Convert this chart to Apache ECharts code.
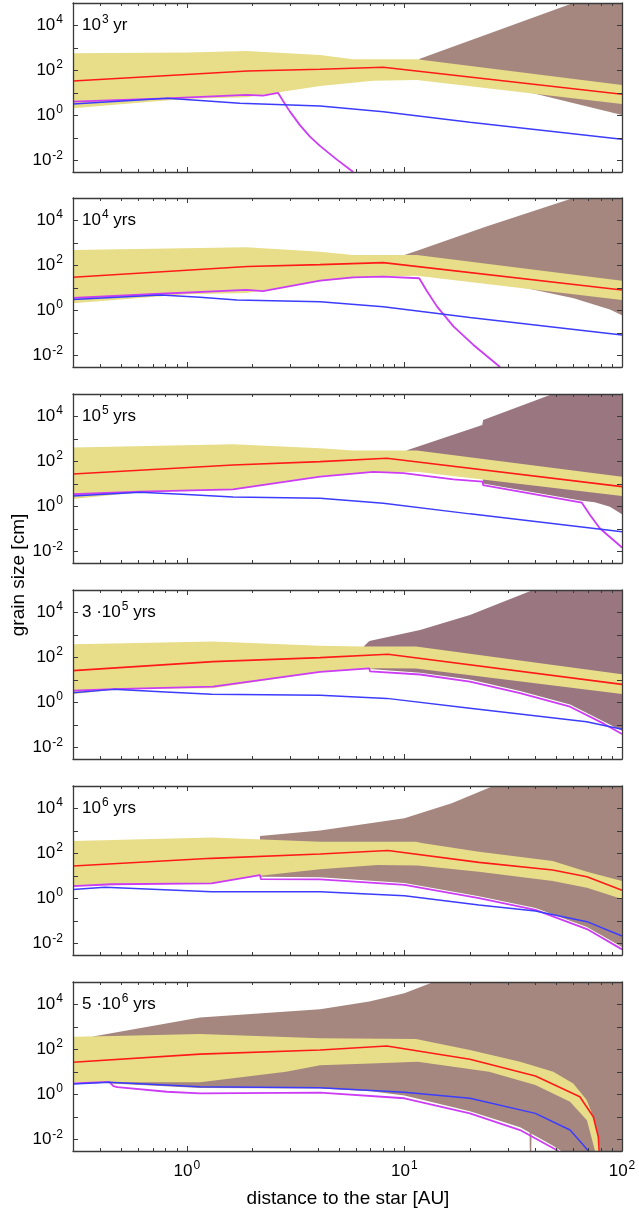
<!DOCTYPE html>
<html><head><meta charset="utf-8">
<script src="https://cdn.jsdelivr.net/npm/echarts@6/dist/echarts.min.js"></script>
<style>html,body{margin:0;padding:0;background:#fff}#c{width:639px;height:1211px}</style>
</head><body><div id="c"></div>
<script>
// ---------- data (x in AU, y in cm) ----------
// Panel 1: 10^3 yr
const p1BandUpper = [[0.3, 589], [1.0, 631], [1.88, 741], [4.1, 490], [5.8, 316], [11.4, 316], [100, 22.9]];
const p1BandLower = [[0.3, 2.14], [1.0, 5.62], [1.88, 6.61], [4.1, 20.9], [7.2, 35.5], [11.4, 38.0], [100, 3.31]];
const p1Red = [[0.3, 34.7], [1.9, 95.5], [4.1, 115], [8.0, 141], [100, 8.91]];
const p1Blue = [[0.3, 3.31], [0.55, 4.68], [0.81, 5.89], [1.2, 4.57], [1.75, 3.55], [4.1, 2.69], [8, 1.51], [20, 0.513], [100, 0.0891]];
const p1Magenta = [[0.3, 4.17], [0.81, 5.89], [1.88, 8.32], [2.24, 7.76], [2.63, 10.2], [2.75, 5.01], [2.98, 1.51], [3.31, 0.380], [3.68, 0.117], [4.08, 0.0468], [4.88, 0.0115], [5.82, 0.00316]];
const p1BrownUpper = [[11.6, 316], [59.7, 1e5], [100, 1e5]];
const p1BrownLower = [[11.6, 316], [20, 39.8], [39, 10], [70, 2.51], [100, 1.07]];

// Panel 2: 10^4 yrs
const p2BandUpper = [[0.3, 490], [1.88, 646], [4.1, 417], [5.8, 295], [11.4, 295], [100, 21.4]];
const p2BandLower = [[0.3, 2.14], [1.0, 5.37], [1.88, 6.03], [4.1, 20.0], [7.2, 33.1], [11.4, 35.5], [100, 2.95]];
const p2Red = [[0.3, 30.2], [1.9, 91.2], [4.1, 110], [8.0, 135], [100, 8.32]];
const p2Blue = [[0.3, 3.16], [0.76, 4.90], [1.15, 3.98], [1.7, 2.95], [4.1, 2.51], [8, 1.48], [20, 0.501], [100, 0.0832]];
const p2Magenta = [[0.3, 3.72], [0.76, 5.62], [1.88, 8.32], [2.24, 7.41], [4.1, 21.4], [5.8, 30.2], [8, 32.4], [11.7, 27.5], [12.6, 8.32], [14.1, 1.55], [16.8, 0.200], [20.7, 0.0309], [27.5, 0.00316]];
const p2BrownUpper = [[10, 295], [11.7, 490], [23.8, 5370], [59.7, 1e5], [100, 1e5]];
const p2BrownLower = [[10, 295], [20, 50.1], [36.5, 10], [60, 3.55], [88, 1.12], [100, 0.631]];

// Panel 3: 10^5 yrs
const p3BandUpper = [[0.3, 427], [1.63, 589], [4.1, 389], [5.8, 309], [11.4, 309], [100, 21.4]];
const p3BandLower = [[0.3, 2.19], [0.61, 4.37], [1.63, 5.50], [4.1, 23.4], [7.2, 33.1], [11.4, 35.5], [100, 2.95]];
const p3Red = [[0.3, 28.2], [1.63, 70.8], [4.1, 100], [8.3, 141], [100, 7.76]];
const p3Blue = [[0.3, 2.95], [0.61, 4.37], [1.0, 3.47], [1.63, 2.69], [4.1, 2.34], [8, 1.41], [20, 0.479], [100, 0.0776]];
const p3Magenta = [[0.3, 3.55], [0.61, 4.68], [1.63, 5.89], [4.1, 21.4], [7.2, 34.7], [9.9, 30.9], [16.8, 16.2], [22.9, 12.9], [23.0, 9.12], [65.4, 1.51], [71.3, 0.427], [79, 0.110], [100, 0.0155]];
const p3BrownUpper = [[10.2, 309], [22.8, 4170], [23.0, 7080], [48, 1e5], [100, 1e5]];
const p3BrownLower = [[10.2, 309], [22.8, 39.8], [23.0, 10.7], [65.4, 1.82], [75, 1.58], [88, 1.0], [95, 0.631], [100, 0.457]];

// Panel 4: 3·10^5 yrs
const p4BandUpper = [[0.3, 389], [1.32, 513], [4.1, 339], [6.5, 309], [11.3, 309], [100, 18.2]];
const p4BandLower = [[0.3, 2.34], [0.5, 4.07], [1.32, 4.37], [4.1, 22.4], [7.5, 33.9], [11.3, 33.1], [100, 2.40]];
const p4Red = [[0.3, 26.3], [1.32, 66.1], [4.1, 100], [8.4, 141], [100, 6.46]];
const p4Blue = [[0.3, 2.75], [0.46, 3.89], [0.8, 3.0], [1.3, 2.34], [4.1, 2.14], [8.3, 1.55], [20, 0.562], [68.7, 0.141], [100, 0.0661]];
const p4Magenta = [[0.3, 3.39], [0.46, 3.98], [1.32, 5.13], [4.1, 23.4], [6.9, 33.1], [6.95, 24.5], [11.8, 17.8], [20, 8.51], [34, 2.63], [57.7, 0.661], [82, 0.120], [100, 0.0407]];
const p4BrownUpper = [[6.5, 309], [6.9, 550], [11.8, 1660], [20, 7760], [39, 1e5], [100, 1e5]];
const p4BrownLower = [[6.5, 309], [6.9, 50], [6.95, 30.9], [11.8, 21.4], [20, 10.7], [34, 3.31], [57.7, 0.832], [82, 0.151], [100, 0.0562]];

// Panel 5: 10^6 yrs
const p5BandUpper = [[0.3, 363], [1.3, 513], [4.1, 339], [11.3, 339], [12, 295], [22, 120], [48, 46.8], [69, 15.8], [100, 6.03]];
const p5BandLower = [[0.3, 3.63], [1.3, 4.79], [2.17, 10.5], [4.1, 20.0], [7.5, 30.9], [11.5, 29.5], [22, 15.8], [48, 6.03], [69, 3.09], [100, 0.955]];
const p5Red = [[0.3, 28.2], [1.3, 61.7], [4.1, 95.5], [8.4, 138], [22, 40.7], [48, 18.6], [69, 9.33], [100, 2.34]];
const p5Blue = [[0.3, 2.57], [0.42, 3.24], [1.3, 2.04], [4.1, 2.04], [10, 1.35], [22, 0.525], [40, 0.282], [69, 0.0955], [100, 0.0219]];
const p5Magenta = [[0.3, 3.63], [0.45, 4.37], [1.3, 4.79], [2.17, 11.2], [2.19, 7.41], [4.1, 7.24], [10, 4.07], [22, 1.05], [40, 0.316], [69, 0.0447], [100, 0.00562]];
const p5BrownUpper = [[2.17, 603], [4.1, 1070], [10, 3720], [16.5, 17000], [25.6, 1e5], [100, 1e5]];
const p5BrownLower = [[2.17, 9.33], [4.1, 8.91], [10, 5.01], [22, 1.29], [40, 0.389], [69, 0.055], [100, 0.00708]];

// Panel 6: 5·10^6 yrs
const p6BandUpper = [[0.3, 372], [0.46, 398], [1.15, 490], [4.1, 316], [11.3, 295], [20, 95.5], [34, 28.8], [48.3, 10.5], [59.7, 3.16], [68.8, 0.575], [73.8, 0.105], [77.8, 0.0135], [79.3, 0.00316]];
const p6BandLower = [[0.3, 3.55], [1.15, 3.55], [2.86, 10.5], [4.1, 20.0], [7.5, 24.5], [11.5, 28.8], [24.5, 10.5], [40, 2.69], [57.7, 0.49], [69, 0.0741], [75.2, 0.00316]];
const p6Red = [[0.3, 27.5], [1.15, 63.1], [4.1, 95.5], [8.3, 145], [20, 37.2], [40, 6.76], [64, 0.813], [73.8, 0.105], [77.8, 0.0135], [78.5, 0.00316]];
const p6Blue = [[0.3, 2.95], [0.44, 3.55], [1.15, 2.24], [4.1, 2.04], [10, 1.29], [20, 0.692], [40, 0.148], [57.7, 0.0269], [66.4, 0.00589], [70, 0.00316]];
const p6Magenta = [[0.3, 3.16], [0.44, 3.72], [0.46, 2.40], [0.48, 2.14], [0.81, 1.35], [1.15, 1.15], [4.1, 1.23], [10, 0.692], [20, 0.148], [34, 0.0269], [51, 0.00316]];
const p6BrownUpper = [[0.37, 380], [1.15, 2690], [4.1, 6170], [6.9, 13500], [10, 31600], [13.6, 1e5], [100, 1e5]];
const p6BrownLower = [[0.37, 380], [0.42, 10], [0.45, 3.16], [1.15, 2.0], [4.1, 1.86], [7, 1.41], [10, 0.91], [20, 0.186], [34, 0.0355], [37.6, 0.0209], [37.7, 0.00316], [38.3, 0.00316], [38.4, 0.0186], [48, 0.0055], [52.5, 0.00316], [100, 0.00316]];

// labels
const panelPrefix = ['', '', '', '3 \u00b7', '', '5 \u00b7'];
const panelExp = ['3', '4', '5', '5', '6', '6'];
const panelUnit = [' yr', ' yrs', ' yrs', ' yrs', ' yrs', ' yrs'];
const yLabelExps = [-2, 0, 2, 4];
const xLabelExps = [0, 1, 2];
const xTitle = 'distance to the star [AU]';
const yTitle = 'grain size [cm]';

// ---------- layout / style ----------
const FONT = 'Liberation Sans, Arial, Helvetica, sans-serif';
const panelTops = [3, 198, 394, 590, 786, 982];
const panelH = 169;
const frameColor = '#3a3a3a';
const yellow = '#e8de89';
const brownA = '#a5877f';
const brownB = '#9a7680';
const red = '#ff1a1a';
const blue = '#3c3cff';
const magenta = '#cc3cf5';

const panels = [
  {bu: p1BandUpper, bl: p1BandLower, r: p1Red, b: p1Blue, m: p1Magenta, wu: p1BrownUpper, wl: p1BrownLower, wc: brownA},
  {bu: p2BandUpper, bl: p2BandLower, r: p2Red, b: p2Blue, m: p2Magenta, wu: p2BrownUpper, wl: p2BrownLower, wc: brownA},
  {bu: p3BandUpper, bl: p3BandLower, r: p3Red, b: p3Blue, m: p3Magenta, wu: p3BrownUpper, wl: p3BrownLower, wc: brownB},
  {bu: p4BandUpper, bl: p4BandLower, r: p4Red, b: p4Blue, m: p4Magenta, wu: p4BrownUpper, wl: p4BrownLower, wc: brownB},
  {bu: p5BandUpper, bl: p5BandLower, r: p5Red, b: p5Blue, m: p5Magenta, wu: p5BrownUpper, wl: p5BrownLower, wc: brownA},
  {bu: p6BandUpper, bl: p6BandLower, r: p6Red, b: p6Blue, m: p6Magenta, wu: p6BrownUpper, wl: p6BrownLower, wc: brownA}
];

const rich = {
  b: {fontSize: 17, fontFamily: FONT, fontWeight: 'normal', color: '#000', lineHeight: 17},
  s: {fontSize: 12, fontFamily: FONT, fontWeight: 'normal', color: '#000', verticalAlign: 'bottom', lineHeight: 12, padding: [0, 0, 8, 1]}
};

function expFormatter(allowed) {
  return function (v) {
    const l = Math.log10(v);
    const e = Math.round(l);
    if (Math.abs(l - e) > 1e-6 || allowed.indexOf(e) < 0) return '';
    return '{b|10}{s|' + e + '}';
  };
}

function polyRenderer(upper, lower, color) {
  return function (params, api) {
    if (params.dataIndex !== 0) return null;
    const pts = upper.concat(lower.slice().reverse()).map(function (p) { return api.coord(p); });
    return {type: 'polygon', shape: {points: pts}, style: {fill: color}};
  };
}

const grid = [], xAxis = [], yAxis = [], series = [], title = [];
const tickStyle = {color: frameColor, width: 1};

panels.forEach(function (p, i) {
  grid.push({left: 73, right: 17, top: panelTops[i], height: panelH, containLabel: false});
  ['bottom', 'top'].forEach(function (pos) {
    xAxis.push({
      type: 'log', gridIndex: i, min: 0.3, max: 100, position: pos, z: 10,
      axisLine: {show: true, onZero: false, lineStyle: {color: frameColor, width: 1.3}},
      axisTick: {show: true, inside: true, length: 5, lineStyle: tickStyle},
      minorTick: {show: true, splitNumber: 9, length: 3, lineStyle: tickStyle},
      splitLine: {show: false}, minorSplitLine: {show: false},
      axisLabel: {show: pos === 'bottom' && i === 5, formatter: expFormatter(xLabelExps), rich: rich,
                  fontSize: 17, fontFamily: FONT, color: '#000', margin: 12}
    });
  });
  ['left', 'right'].forEach(function (pos) {
    yAxis.push({
      type: 'log', gridIndex: i, min: 0.0031623, max: 1e5, position: pos, z: 10,
      axisLine: {show: true, onZero: false, lineStyle: {color: frameColor, width: 1.3}},
      axisTick: {show: true, inside: true, length: 5, lineStyle: tickStyle},
      minorTick: {show: false},
      splitLine: {show: false}, minorSplitLine: {show: false},
      axisLabel: {show: pos === 'left', formatter: expFormatter(yLabelExps), rich: rich,
                  fontSize: 17, fontFamily: FONT, color: '#000', margin: 10}
    });
  });
  const xi = 2 * i, yi = 2 * i;
  series.push({
    type: 'custom', xAxisIndex: xi, yAxisIndex: yi, z: 1, silent: true,
    data: p.wu.concat(p.wl.slice().reverse()),
    renderItem: polyRenderer(p.wu, p.wl, p.wc)
  });
  series.push({
    type: 'custom', xAxisIndex: xi, yAxisIndex: yi, z: 2, silent: true,
    data: p.bu.concat(p.bl.slice().reverse()),
    renderItem: polyRenderer(p.bu, p.bl, yellow)
  });
  [[p.m, magenta, 1.8], [p.b, blue, 1.5], [p.r, red, 1.6]].forEach(function (d, k) {
    series.push({
      type: 'line', xAxisIndex: xi, yAxisIndex: yi, z: 3 + k, silent: true,
      data: d[0], showSymbol: false, symbol: 'none', clip: true, smooth: false,
      lineStyle: {color: d[1], width: d[2]}
    });
  });
  title.push({
    text: '{b|' + panelPrefix[i] + '10}{s|' + panelExp[i] + '}{b|' + panelUnit[i] + '}',
    left: 82, top: panelTops[i] + 14, padding: 0,
    textStyle: {fontSize: 17, fontWeight: 'normal', fontFamily: FONT, color: '#000', rich: rich}
  });
});

const chart = echarts.init(document.getElementById('c'), null, {renderer: 'canvas'});
chart.setOption({
  animation: false,
  backgroundColor: '#fff',
  textStyle: {fontFamily: FONT},
  title: title,
  grid: grid, xAxis: xAxis, yAxis: yAxis, series: series,
  graphic: [
    {type: 'text', x: 348, y: 1199, z: 20,
     style: {text: xTitle, font: '19px ' + FONT, fill: '#000', align: 'center', verticalAlign: 'middle'}},
    {type: 'text', x: 19, y: 575, rotation: Math.PI / 2, z: 20,
     style: {text: yTitle, font: '19px ' + FONT, fill: '#000', align: 'center', verticalAlign: 'middle'}}
  ]
});
</script></body></html>
